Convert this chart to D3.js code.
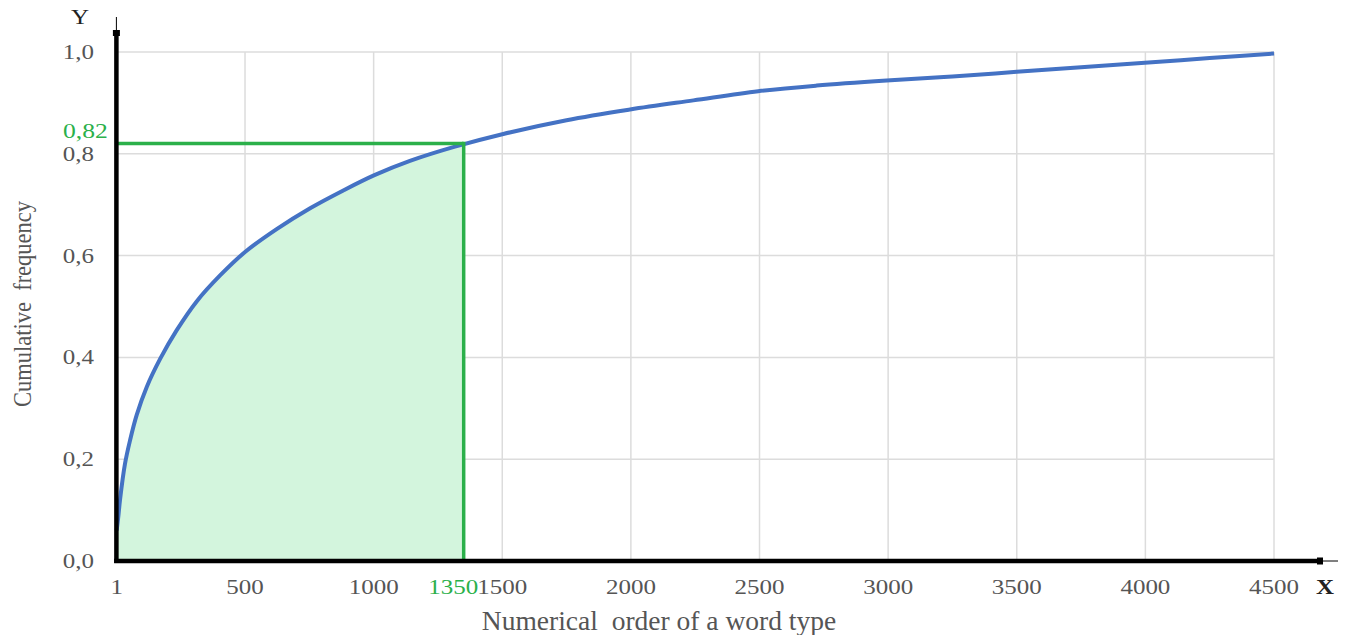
<!DOCTYPE html>
<html><head><meta charset="utf-8">
<script src="https://cdn.jsdelivr.net/npm/d3@7"></script>
<style>body{margin:0;background:#fff;}svg{display:block;}text{white-space:pre;}</style>
</head><body>
<svg id="c" width="1349" height="635"></svg>
<script>
// Data
const curveX = [1, 8, 14, 33, 53, 79, 118, 170, 234, 312, 403, 500, 623, 753, 882, 1003, 1141, 1316, 1504, 1750, 1997, 2243, 2495, 2722, 2994, 3250, 3500, 3750, 3998, 4250, 4500];
const curveY = [0.06, 0.09, 0.12, 0.19, 0.237, 0.287, 0.342, 0.397, 0.453, 0.510, 0.561, 0.607, 0.652, 0.693, 0.728, 0.758, 0.786, 0.814, 0.839, 0.866, 0.887, 0.905, 0.923, 0.934, 0.944, 0.952, 0.961, 0.970, 0.979, 0.988, 0.997];
const xTicks = [1, 500, 1000, 1500, 2000, 2500, 3000, 3500, 4000, 4500];
const xGrid = [500, 1000, 1500, 2000, 2500, 3000, 3500, 4000, 4500];
const yTicks = [0, 0.2, 0.4, 0.6, 0.8, 1.0];
const markerX = [1350];
const markerY = [0.82];
const xTitle = "Numerical  order of a word type";
const yTitle = "Cumulative  frequency";

const svg = d3.select("#c");
const x = d3.scaleLinear().domain([0, 4500]).range([116.4, 1274]);
const y = d3.scaleLinear().domain([0, 1]).range([561, 52]);
const fmt = v => d3.format(".1f")(v).replace(".", ",");
const serif = "'Liberation Serif','Times New Roman',serif";
const data = curveX.map((d, i) => [d, curveY[i]]);
const SX = 1.25; // horizontal stretch of the reference lettering
const curve = d3.curveCatmullRom.alpha(0.5);

// grid
svg.append("g").selectAll("line").data(xGrid).join("line")
  .attr("x1", d => x(d)).attr("x2", d => x(d)).attr("y1", y(1)).attr("y2", y(0))
  .attr("stroke", "#dcdcdc").attr("stroke-width", 1.5);
svg.append("g").selectAll("line").data(yTicks.filter(d => d > 0)).join("line")
  .attr("x1", x(0)).attr("x2", x(4500)).attr("y1", d => y(d)).attr("y2", d => y(d))
  .attr("stroke", "#dcdcdc").attr("stroke-width", 1.5);

// shaded area up to the marker
const mx = markerX[0], my = markerY[0];
const areaData = data.filter(d => d[0] <= mx);
const last = areaData[areaData.length - 1];
if (last[0] < mx) areaData.push([mx, my]);
svg.append("path").datum(areaData)
  .attr("d", d3.area().x(d => x(d[0])).y0(y(0)).y1(d => y(d[1])).curve(curve))
  .attr("fill", "#d3f5dd");

// curve
svg.append("path").datum(data)
  .attr("d", d3.line().x(d => x(d[0])).y(d => y(d[1])).curve(curve))
  .attr("fill", "none").attr("stroke", "#4472c4").attr("stroke-width", 4)
  .attr("stroke-linejoin", "round");

// marker lines
svg.append("line").attr("x1", x(0)).attr("x2", x(mx)).attr("y1", y(my)).attr("y2", y(my))
  .attr("stroke", "#2bb04a").attr("stroke-width", 3.5);
svg.append("line").attr("x1", x(mx)).attr("x2", x(mx)).attr("y1", y(my) - 1.75).attr("y2", y(0))
  .attr("stroke", "#2bb04a").attr("stroke-width", 3.5);

// axes
const ax = svg.append("g");
ax.append("line").attr("x1", x(0)).attr("x2", x(0)).attr("y1", y(0) + 2).attr("y2", 33)
  .attr("stroke", "#000").attr("stroke-width", 4.5);
ax.append("rect").attr("x", x(0) - 3.5).attr("y", 30).attr("width", 7).attr("height", 6).attr("fill", "#000");
ax.append("line").attr("x1", x(0)).attr("x2", x(0)).attr("y1", 33).attr("y2", 17)
  .attr("stroke", "#000").attr("stroke-width", 1);
ax.append("line").attr("x1", x(0) - 2.25).attr("x2", 1320).attr("y1", y(0)).attr("y2", y(0))
  .attr("stroke", "#000").attr("stroke-width", 4.5);
ax.append("rect").attr("x", 1317).attr("y", y(0) - 3.5).attr("width", 6).attr("height", 7).attr("fill", "#000");
ax.append("line").attr("x1", 1320).attr("x2", 1338).attr("y1", y(0)).attr("y2", y(0))
  .attr("stroke", "#000").attr("stroke-width", 1);

function label(g, tx, ty, txt, anchor, color, size, weight) {
  return g.append("text")
    .attr("transform", `translate(${tx},${ty}) scale(${SX},1)`)
    .attr("text-anchor", anchor).attr("font-family", serif)
    .attr("font-size", size).attr("font-weight", weight || "normal")
    .attr("fill", color).text(txt);
}

// tick labels
const gx = svg.append("g");
xTicks.forEach(d => label(gx, x(d), 594, String(d), "middle", "#555", 20));
const gy = svg.append("g");
yTicks.forEach(d => label(gy, 94, y(d) + 7, fmt(d), "end", "#555", 20));

// marker labels
label(svg, x(1500) - 24, 594, String(mx), "end", "#2bb04a", 20);
label(svg, 63, y(my) - 6, String(my).replace(".", ","), "start", "#2bb04a", 20.5);

// axis letters
label(svg, 80, 24, "Y", "middle", "#222", 20);
label(svg, 1325, 594, "X", "middle", "#222", 20, "bold");

// titles
svg.append("text").attr("x", 659).attr("y", 630).attr("text-anchor", "middle")
  .attr("font-family", serif).attr("font-size", 27.5).attr("fill", "#555").text(xTitle);
svg.append("text").attr("transform", "translate(31,304) rotate(-90) scale(1,1.15)").attr("text-anchor", "middle")
  .attr("font-family", serif).attr("font-size", 22.5).attr("fill", "#555").text(yTitle);
</script>
</body></html>
